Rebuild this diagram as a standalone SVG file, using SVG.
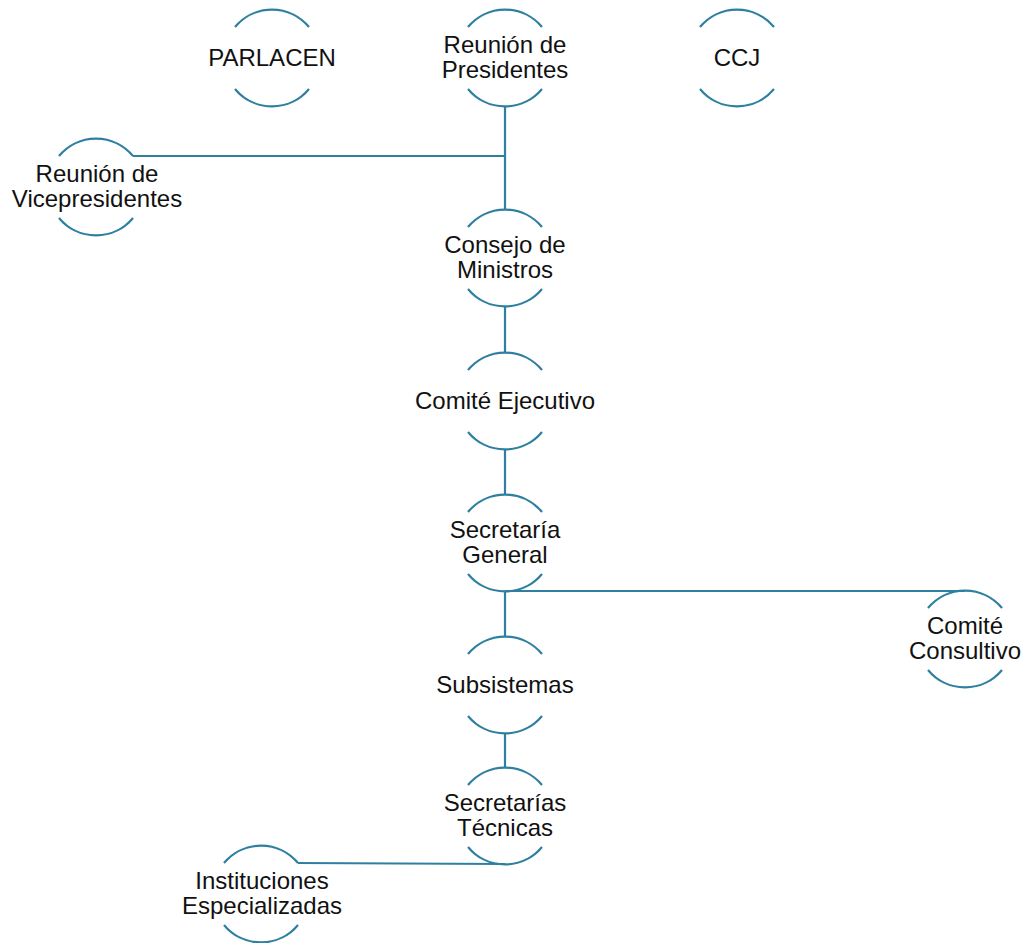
<svg xmlns="http://www.w3.org/2000/svg" width="1025" height="943" viewBox="0 0 1025 943">
<style>
.arc{fill:none;stroke:#2f7fa0;stroke-width:2.2}
.con{fill:none;stroke:#2f7fa0;stroke-width:2.2}
text{font-family:"Liberation Sans",Arial,sans-serif;font-size:24px;fill:#111;text-anchor:middle}
</style>
<rect width="1025" height="943" fill="#fff"/>
<g id="connectors">
<path class="con" d="M505 106 V210 M133 156 H505"/>
<path class="con" d="M505 306 V353"/>
<path class="con" d="M505 449 V495"/>
<path class="con" d="M505 591 V637 M505 591 H965"/>
<path class="con" d="M505 733 V768"/>
<path class="con" d="M505 864 L298 863"/>
</g>
<g id="parlacen"><path class="arc" d="M235 27 A48 48 0 0 1 309 27 M235 89 A48 48 0 0 0 309 89"/><text x="272" y="66">PARLACEN</text></g>
<g id="presidentes"><path class="arc" d="M468 27 A48 48 0 0 1 542 27 M468 89 A48 48 0 0 0 542 89"/><text x="505" y="53">Reunión de</text><text x="505" y="78">Presidentes</text></g>
<g id="ccj"><path class="arc" d="M700 27 A48 48 0 0 1 774 27 M700 89 A48 48 0 0 0 774 89"/><text x="737" y="66">CCJ</text></g>
<g id="vicepresidentes"><path class="arc" d="M59 156 A48 48 0 0 1 133 156 M59 218 A48 48 0 0 0 133 218"/><text x="97" y="182">Reunión de</text><text x="97" y="207">Vicepresidentes</text></g>
<g id="consejo"><path class="arc" d="M468 227 A48 48 0 0 1 542 227 M468 289 A48 48 0 0 0 542 289"/><text x="505" y="253">Consejo de</text><text x="505" y="278">Ministros</text></g>
<g id="comite-ejecutivo"><path class="arc" d="M468 370 A48 48 0 0 1 542 370 M468 432 A48 48 0 0 0 542 432"/><text x="505" y="409">Comité Ejecutivo</text></g>
<g id="secretaria-general"><path class="arc" d="M468 512 A48 48 0 0 1 542 512 M468 574 A48 48 0 0 0 542 574"/><text x="505" y="538">Secretaría</text><text x="505" y="563">General</text></g>
<g id="comite-consultivo"><path class="arc" d="M928 608 A48 48 0 0 1 1002 608 M928 670 A48 48 0 0 0 1002 670"/><text x="965" y="634">Comité</text><text x="965" y="659">Consultivo</text></g>
<g id="subsistemas"><path class="arc" d="M468 654 A48 48 0 0 1 542 654 M468 716 A48 48 0 0 0 542 716"/><text x="505" y="693">Subsistemas</text></g>
<g id="secretarias-tecnicas"><path class="arc" d="M468 785 A48 48 0 0 1 542 785 M468 847 A48 48 0 0 0 542 847"/><text x="505" y="811">Secretarías</text><text x="505" y="836">Técnicas</text></g>
<g id="instituciones"><path class="arc" d="M224 863 A48 48 0 0 1 298 863 M224 925 A48 48 0 0 0 298 925"/><text x="262" y="889">Instituciones</text><text x="262" y="914">Especializadas</text></g>
</svg>
